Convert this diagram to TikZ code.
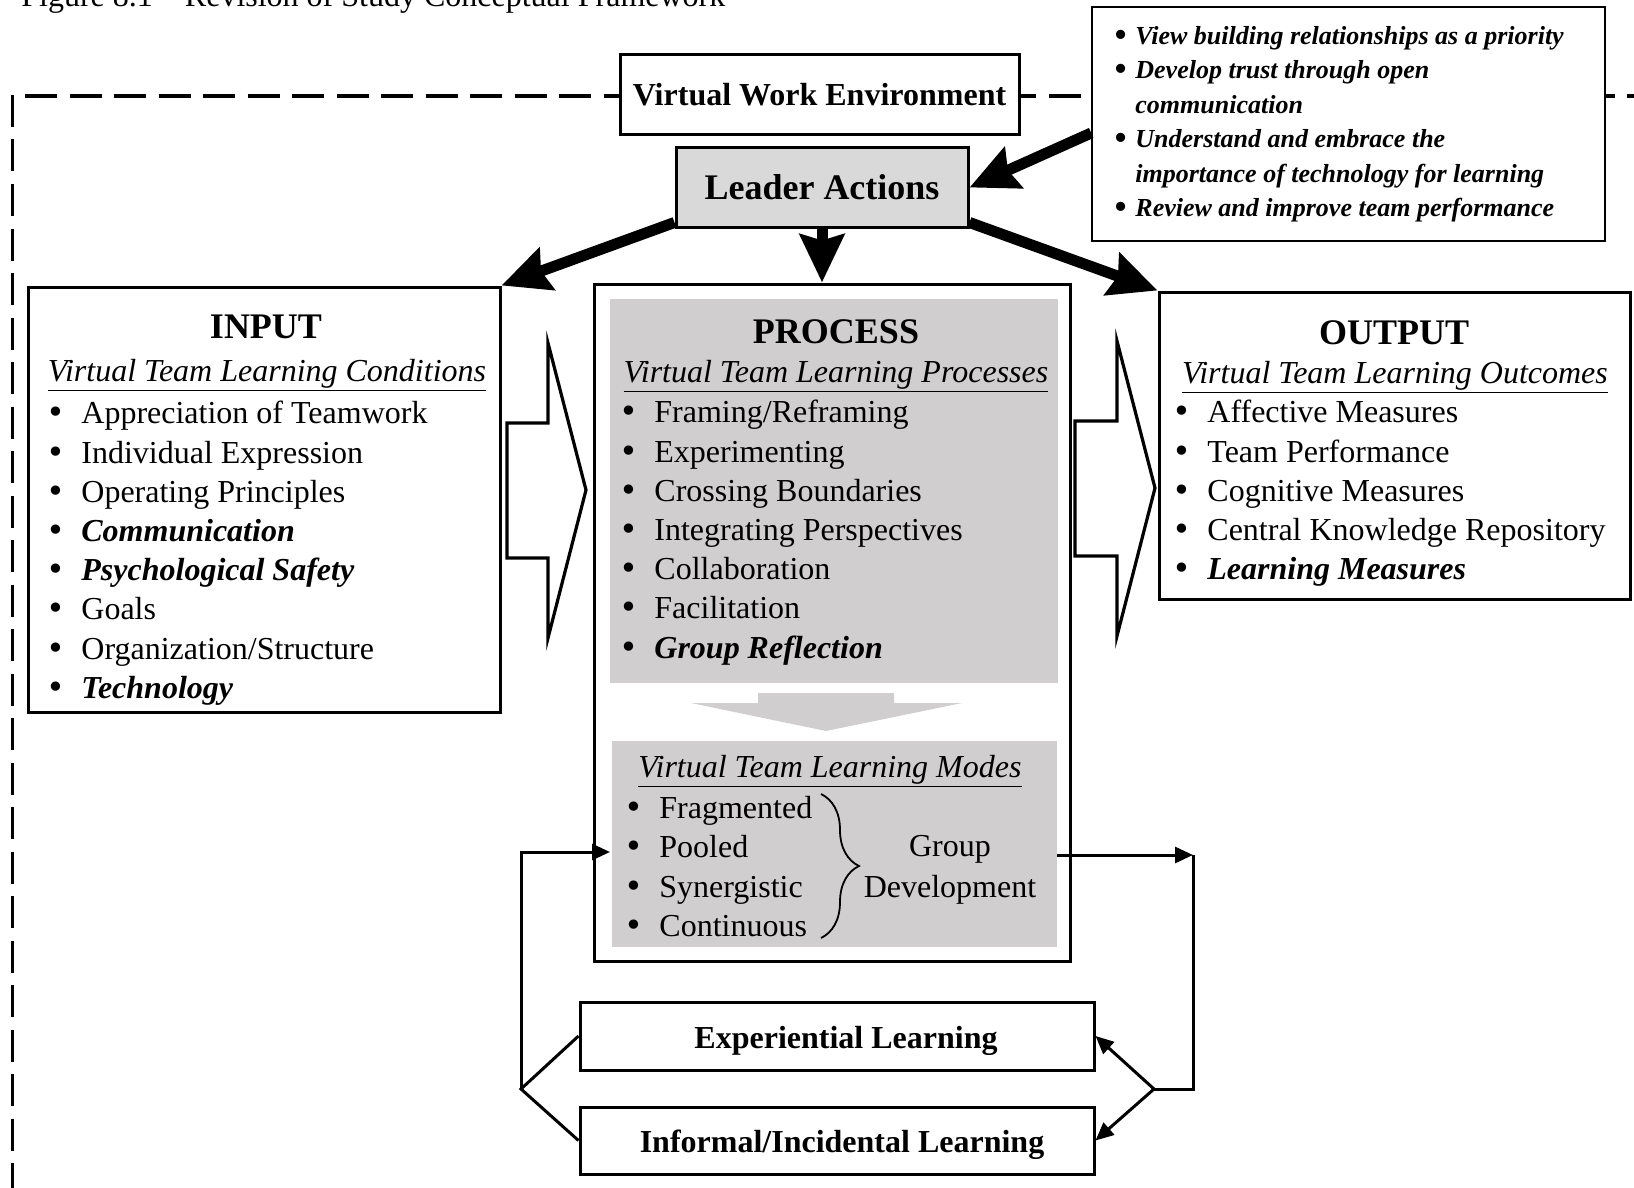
\documentclass[tikz,border=0pt]{standalone}
\usepackage{fontspec}
\setmainfont{Liberation Serif}
\newfontfamily\bulfont{DejaVu Sans}
\usepackage{tikz}
\usetikzlibrary{arrows.meta,decorations.pathreplacing}

\definecolor{leadgray}{RGB}{217,217,217}
\definecolor{procgray}{RGB}{208,206,206}
\newcommand{\itm}{\makebox[17.5pt][l]{\bulfont\textbullet}}
\newcommand{\tipb}{\makebox[11.5pt][l]{\bulfont\textbullet}}

\begin{document}
\begin{tikzpicture}[x=0.5pt,y=-0.5pt,
		box_style/.style={rectangle,draw=black,line width=1.5pt,fill=white,inner sep=0pt},
		fill_style/.style={rectangle,fill=procgray,inner sep=0pt},
		list_style/.style={anchor=north west,align=left,inner sep=0pt,font=\fontsize{16}{19.6}\selectfont},
		head_style/.style={anchor=base,inner sep=0pt,font=\fontsize{18}{22}\selectfont\bfseries},
		sub_style/.style={anchor=base,inner sep=0pt,font=\fontsize{16}{19.6}\selectfont\itshape},
		label_style/.style={anchor=base,inner sep=0pt,font=\fontsize{16}{19}\selectfont\bfseries},
		big_edge/.style={draw=black,line width=5.5pt,-{Stealth[length=24pt,width=22pt,inset=3pt]}},
		thin_edge/.style={draw=black,line width=1.5pt},
		small_tip/.style={-{Triangle[length=9pt,width=8pt]}},
		block_style/.style={draw=black,line width=1.6pt,fill=white,line join=miter},
		frame_style/.style={draw=black,line width=1.6pt,dash pattern=on 16pt off 6.25pt}]

		\useasboundingbox (0,0) rectangle (1634,1188);

		% title, cut at the top
		\node[anchor=base west,inner sep=0pt,font=\fontsize{16}{19}\selectfont] (title) at (21,7) {Figure 8.1 – Revision of Study Conceptual Framework};

		% environment frame
		\draw[frame_style] (25,96) -- (1634,96);
		\draw[frame_style] (12.7,95) -- (12.7,1188);

		\node[box_style,minimum width=199.5pt,minimum height=40pt,font=\fontsize{16}{19}\selectfont\bfseries] (vwe) at (819.5,95) {Virtual Work Environment};
		\node[box_style,fill=leadgray,minimum width=146pt,minimum height=39.5pt,font=\fontsize{18}{22}\selectfont\bfseries] (leader) at (822,187.5) {Leader Actions};

		\node[box_style,line width=0.8pt,minimum width=256.5pt,minimum height=117pt] (tips) at (1348.5,124) {};
		\node[list_style,font=\fontsize{13}{17.2}\selectfont\bfseries\itshape] (tiplist) at (1112,26) {\tipb View building relationships as a priority\\
			\tipb Develop trust through open\\ \hspace*{11.5pt}communication\\
			\tipb Understand and embrace the\\ \hspace*{11.5pt}importance of technology for learning\\
			\tipb Review and improve team performance};

		% input
		\node[box_style,minimum width=236pt,minimum height=212.5pt] (input) at (264,499.5) {};
		\node[head_style] (inhead) at (266,338) {INPUT};
		\node[sub_style] (insub) at (267,381) {\underline{Virtual Team Learning Conditions}};
		\node[list_style] (inlist) at (46,401) {\itm Appreciation of Teamwork\\ \itm Individual Expression\\
			\itm Operating Principles\\ \itm\textbf{\textit{Communication}}\\ \itm\textbf{\textit{Psychological Safety}}\\
			\itm Goals\\ \itm Organization/Structure\\ \itm\textbf{\textit{Technology}}};

		% process
		\node[box_style,minimum width=238pt,minimum height=338.5pt] (process) at (832,622.5) {};
		\node[fill_style,minimum width=224pt,minimum height=192pt] (procfill) at (834,491) {};
		\node[head_style] (prochead) at (836,343) {PROCESS};
		\node[sub_style] (procsub) at (836,382) {\underline{Virtual Team Learning Processes}};
		\node[list_style] (proclist) at (619,400) {\itm Framing/Reframing\\ \itm Experimenting\\ \itm Crossing Boundaries\\
			\itm Integrating Perspectives\\ \itm Collaboration\\ \itm Facilitation\\ \itm\textbf{\textit{Group Reflection}}};

		\fill[procgray] (758,693) -- (894,693) -- (894,703) -- (962,703) -- (826,731) -- (691,703) -- (758,703) -- cycle;

		\node[fill_style,minimum width=222.5pt,minimum height=103pt] (modefill) at (834.5,843.5) {};
		\node[sub_style] (modesub) at (830,777) {\underline{Virtual Team Learning Modes}};
		\node[list_style] (modelist) at (624,796) {\itm Fragmented\\ \itm Pooled\\ \itm Synergistic\\ \itm Continuous};
		\draw[line width=0.9pt,decorate,decoration={brace,amplitude=19pt}] (821,794) -- (821,938);
		\node[align=center,inner sep=0pt,font=\fontsize{16}{20.5}\selectfont] (grpdev) at (950,870) {Group\\Development};

		% output
		\node[box_style,minimum width=235.5pt,minimum height=153.5pt] (output) at (1394.5,445.5) {};
		\node[head_style] (outhead) at (1394,344) {OUTPUT};
		\node[sub_style] (outsub) at (1395,383) {\underline{Virtual Team Learning Outcomes}};
		\node[list_style] (outlist) at (1172,400) {\itm Affective Measures\\ \itm Team Performance\\ \itm Cognitive Measures\\
			\itm Central Knowledge Repository\\ \itm\textbf{\textit{Learning Measures}}};

		% block arrows
		\draw[block_style] (507,423) -- (548,423) -- (548,343) -- (586,490) -- (548,638) -- (548,558) -- (507,558) -- cycle;
		\draw[block_style] (1075,421) -- (1117,421) -- (1117,341) -- (1155,488) -- (1117,636) -- (1117,556) -- (1075,556) -- cycle;

		% learning boxes
		\node[box_style,minimum width=257pt,minimum height=34pt] (expl) at (837,1036) {};
		\node[box_style,minimum width=257pt,minimum height=33.5pt] (infl) at (837,1140.5) {};
		\node[label_style] (expltext) at (846,1048) {Experiential Learning};
		\node[label_style] (infltext) at (842,1152) {Informal/Incidental Learning};

		\coordinate (lv) at (521,1089);
		\coordinate (pool) at (610,852);
		\coordinate (rc) at (1193,855);
		\coordinate (rv) at (1154,1089);

		% leader arrows
		\draw[big_edge] ([yshift=-4.5pt]tips.west) -- (leader.east);
		\draw[big_edge] ([yshift=3pt]leader.south west) -- (input.north east);
		\draw[big_edge] (leader.south) -- (leader.south |- process.north);
		\draw[big_edge] ([yshift=3pt]leader.south east) -- (output.north west);

		% learning loop
		\draw[thin_edge] (expl.west) -- (lv) -- (infl.west);
		\draw[thin_edge,small_tip] (lv) |- (pool);
		\draw[thin_edge,small_tip] (modefill.east |- rc) -- (rc);
		\draw[thin_edge] (rc) |- (rv);
		\draw[thin_edge,small_tip] (rv) -- (expl.east);
		\draw[thin_edge,small_tip] (rv) -- (infl.east);

		\end{tikzpicture}
\end{document}
